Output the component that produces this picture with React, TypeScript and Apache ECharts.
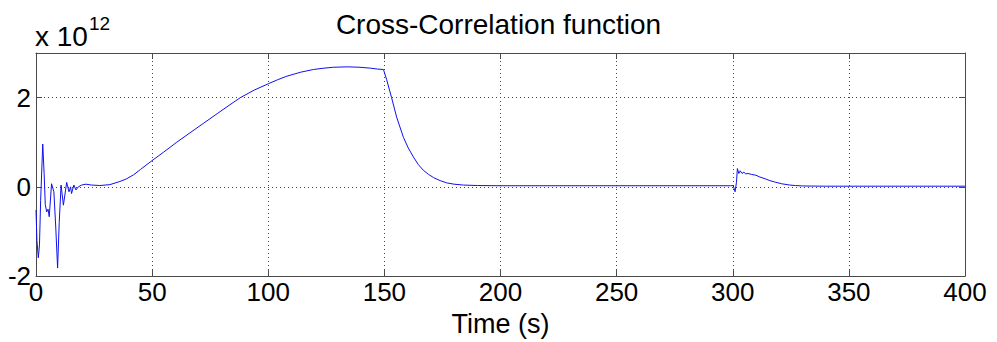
import React, { useEffect, useRef } from "react";
import * as echarts from "echarts";

// Lag time in seconds
const timeS: number[] = [
  0, 0.4, 1.0, 1.5, 2.0, 2.9, 3.5, 4.0, 4.6, 5.2, 5.7, 6.7, 7.7, 8.5, 9.3, 10.0,
  10.8, 11.8, 13.2, 14.2, 14.9, 15.3, 16.3, 17.2, 18.2, 19.6, 21.5, 24, 27.5,
  31.8, 36.1, 39, 42, 45, 49.5, 55, 60.6, 66, 72, 78, 83.5, 88, 94, 100, 104,
  108, 114, 119.4, 124, 128, 134, 139.5, 144, 147, 149.6, 151, 153.1, 155.3,
  158.2, 160.3, 162.5, 164.6, 166.8, 169, 171.1, 174, 176.8, 180, 184, 190, 200,
  250, 299, 300.2, 301, 301.6, 302, 302.6, 303.2, 304, 304.8, 305.6, 306.6, 308,
  310, 311.7, 314, 316, 318, 321, 324.6, 327, 330, 340, 400,
];

// Cross-correlation value, in units of 10^12
const xcorr: number[] = [
  -0.52, -1.2, -1.59, -1.3, -0.3, 0.96, 0.3, -0.4, -0.56, -0.5, -0.67, 0.07,
  -0.11, -0.9, -1.82, -0.8, 0.04, -0.41, 0.1, -0.11, 0.0, -0.15, 0.04, -0.07,
  0.0, 0.04, 0.06, 0.04, 0.03, 0.05, 0.12, 0.18, 0.27, 0.39, 0.57, 0.78, 1.0,
  1.2, 1.42, 1.64, 1.84, 2.0, 2.17, 2.31, 2.4, 2.48, 2.57, 2.63, 2.66, 2.68,
  2.69, 2.68, 2.66, 2.64, 2.63, 2.4, 2.0, 1.56, 1.11, 0.87, 0.67, 0.5, 0.37,
  0.28, 0.21, 0.14, 0.09, 0.06, 0.04, 0.03, 0.025, 0.025, 0.025, 0.03, -0.11,
  0.1, 0.41, 0.3, 0.36, 0.3, 0.33, 0.29, 0.3, 0.28, 0.26, 0.22, 0.18, 0.14,
  0.11, 0.07, 0.04, 0.03, 0.02, 0.015, 0.015,
];

const xTicks = { min: 0, max: 400, interval: 50 };
const yTicks = { min: -2, max: 3, interval: 2 };

const FONT = "'Liberation Sans', Arial, Helvetica, sans-serif";
const FRAME = "#4a4a4a";

export default function App() {
  const ref = useRef<HTMLDivElement>(null);

  useEffect(() => {
    if (!ref.current) return;
    const chart = echarts.init(ref.current, undefined, { renderer: "svg" });
    const data = timeS.map((t, i) => [t, xcorr[i]]);

    // Top and right axes only close the box around the plot
    const frameAxis = {
      axisLine: { show: true, onZero: false, lineStyle: { color: FRAME, width: 1 } },
      axisTick: { show: true, inside: true, length: 6, lineStyle: { color: FRAME } },
      splitLine: { show: false },
      axisLabel: { show: false },
    };

    chart.setOption({
      animation: false,
      backgroundColor: "#ffffff",
      title: {
        text: "Cross-Correlation function",
        left: "center",
        top: 5,
        textStyle: { fontFamily: FONT, fontSize: 28, fontWeight: "normal", color: "#000" },
      },
      grid: { left: 36, right: 32, top: 53, bottom: 64, containLabel: false },
      xAxis: [
        {
          type: "value",
          position: "bottom",
          ...xTicks,
          name: "Time (s)",
          nameLocation: "middle",
          nameGap: 30,
          nameTextStyle: { fontFamily: FONT, fontSize: 27, color: "#000", verticalAlign: "top" },
          axisLine: { show: true, onZero: false, lineStyle: { color: FRAME, width: 1 } },
          axisTick: { show: true, inside: true, length: 6, lineStyle: { color: FRAME } },
          axisLabel: { fontFamily: FONT, fontSize: 26, color: "#000", margin: 3 },
          splitLine: { show: true, lineStyle: { color: "#444", width: 1, type: [1, 3] } },
        },
        {
          type: "value",
          position: "top",
          ...xTicks,
          ...frameAxis,
        },
      ],
      yAxis: [
        {
          type: "value",
          position: "left",
          ...yTicks,
          axisLine: { show: true, onZero: false, lineStyle: { color: FRAME, width: 1 } },
          axisTick: { show: true, inside: true, length: 6, lineStyle: { color: FRAME } },
          axisLabel: {
            fontFamily: FONT,
            fontSize: 26,
            color: "#000",
            margin: 5,
            showMaxLabel: false,
          },
          splitLine: { show: true, lineStyle: { color: "#444", width: 1, type: [1, 3] } },
        },
        {
          type: "value",
          position: "right",
          ...yTicks,
          ...frameAxis,
        },
      ],
      graphic: [
        {
          type: "text",
          left: 35,
          top: 22,
          style: { text: "x 10", font: `28px ${FONT}`, fill: "#000" },
        },
        {
          type: "text",
          left: 89,
          top: 14,
          style: { text: "12", font: `19px ${FONT}`, fill: "#000" },
        },
      ],
      series: [
        {
          type: "line",
          data,
          xAxisIndex: 0,
          yAxisIndex: 0,
          showSymbol: false,
          symbol: "none",
          lineStyle: { color: "#1010ee", width: 1 },
          z: 3,
        },
      ],
    });

    return () => chart.dispose();
  }, []);

  return <div ref={ref} style={{ width: 997, height: 342, position: "absolute", left: 0, top: 0 }} />;
}
